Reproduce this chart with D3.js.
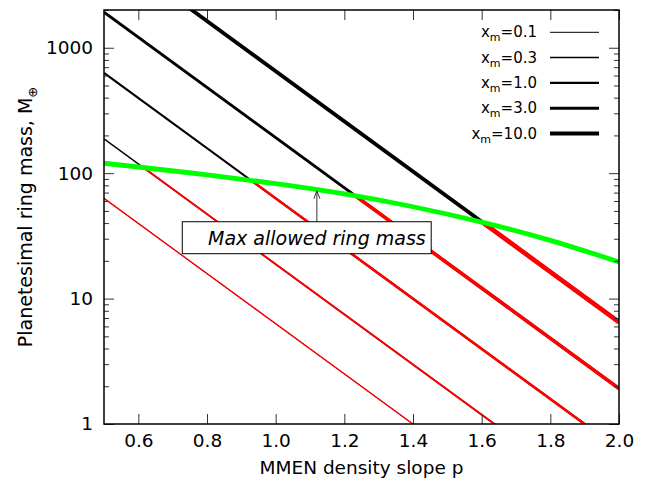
<!DOCTYPE html>
<html>
<head>
<meta charset="utf-8">
<script src="https://cdn.jsdelivr.net/npm/d3@7"></script>
<style>
  body { margin: 0; background: #fff; }
  svg { display: block; }
  text { font-family: "DejaVu Sans", "Liberation Sans", Arial, sans-serif; fill: #000; }
</style>
</head>
<body>
<svg class="ring-chart"></svg>
<script>
// ring mass lines, straight on the log axis, read at p = 0.5 and p = 2.0
var slopeP = [0.5, 2.0];
var xmLabels = ["0.1", "0.3", "1.0", "3.0", "10.0"];
var ringMass = [
    [63, 0.063],
    [188, 0.188],
    [630, 0.63],
    [1920, 1.92],
    [6500, 6.5]
];

// max allowed ring mass (green curve)
var maxP = [0.5, 0.6, 0.8, 1.0, 1.2, 1.4, 1.6, 1.8, 2.0];
var maxMass = [120, 112, 97.0, 82.4, 68.3, 54.0, 40.7, 29.1, 19.6];

// ticks
var xTicks = [0.6, 0.8, 1.0, 1.2, 1.4, 1.6, 1.8, 2.0];
var yMajor = [1, 10, 100, 1000];
var yMinor = [2, 3, 4, 5, 6, 7, 8, 9, 20, 30, 40, 50, 60, 70, 80, 90,
              200, 300, 400, 500, 600, 700, 800, 900, 2000];

// annotation box and arrow (data coords)
var boxP = [0.728, 1.453], boxMass = [22.8, 41];
var arrowP = 1.12, arrowMass = [41, 72.5];
var noteText = "Max allowed ring mass";

var svgWidth = 651, svgHeight = 500;
var margin = { top: 10, right: 32, bottom: 76, left: 104 },
    width = svgWidth - margin.left - margin.right,
    height = svgHeight - margin.top - margin.bottom;

var blackWidth = [1, 1.5, 2.1, 2.9, 3.8];
var redWidth = [1.3, 1.9, 2.6, 3.6, 4.6];

var svg = d3.select('svg.ring-chart')
    .attr("width", svgWidth)
    .attr("height", svgHeight);

var xScale = d3.scaleLinear().domain([0.5, 2.0]).range([0, width]),
    yScale = d3.scaleLog().domain([1, 2000]).range([height, 0]);

var g = svg.append("g")
    .attr("transform", "translate(" + margin.left + "," + margin.top + ")");

var defs = svg.append("defs");
defs.append("clipPath").attr("id", "plot-clip")
    .append("rect").attr("width", width).attr("height", height);

var maxData = maxP.map(function (p, i) { return [p, maxMass[i]]; });

// region under the green curve -> red part of the lines
var under = d3.area()
    .x(function (d) { return xScale(d[0]); })
    .y0(height + 20)
    .y1(function (d) { return yScale(d[1]); })
    .curve(d3.curveNatural);
defs.append("clipPath").attr("id", "under-clip")
    .append("path").datum(maxData).attr("d", under);

var line = d3.line()
    .x(function (d) { return xScale(d[0]); })
    .y(function (d) { return yScale(d[1]); });

var series = ringMass.map(function (m) {
    return slopeP.map(function (p, i) { return [p, m[i]]; });
});

var plot = g.append("g").attr("clip-path", "url(#plot-clip)");

plot.selectAll(".black")
    .data(series)
    .enter()
    .append("path")
    .attr("class", "black")
    .attr("d", line)
    .style("fill", "none")
    .style("stroke", "#000")
    .style("stroke-width", function (d, i) { return blackWidth[i]; });

plot.append("g").attr("clip-path", "url(#under-clip)")
    .selectAll(".red")
    .data(series)
    .enter()
    .append("path")
    .attr("class", "red")
    .attr("d", line)
    .style("fill", "none")
    .style("stroke", "#ff0000")
    .style("stroke-width", function (d, i) { return redWidth[i]; });

plot.append("path")
    .datum(maxData)
    .attr("d", line.curve(d3.curveNatural))
    .style("fill", "none")
    .style("stroke", "#00ff00")
    .style("stroke-width", 4.8);

// axes, ticks pointing inwards
function styleAxis(sel) {
    sel.select(".domain").remove();
    sel.selectAll(".tick line").attr("stroke", "#333").attr("stroke-width", 1);
    sel.selectAll("text").style("font-size", "18.5px").style("font-family", null);
}

g.append("g")
    .attr("transform", "translate(0," + height + ")")
    .call(d3.axisBottom(xScale).tickValues(xTicks).tickSizeInner(-10).tickSizeOuter(0)
        .tickPadding(10).tickFormat(d3.format(".1f")))
    .call(styleAxis);

g.append("g")
    .call(d3.axisTop(xScale).tickValues(xTicks).tickSizeInner(-10).tickSizeOuter(0)
        .tickFormat(""))
    .call(styleAxis);

g.append("g")
    .call(d3.axisLeft(yScale).tickValues(yMajor).tickSizeInner(-10).tickSizeOuter(0)
        .tickPadding(11).tickFormat(d3.format("d")))
    .call(styleAxis);

g.append("g")
    .call(d3.axisLeft(yScale).tickValues(yMinor).tickSizeInner(-5).tickSizeOuter(0)
        .tickFormat(""))
    .call(styleAxis);

g.append("g")
    .attr("transform", "translate(" + width + ",0)")
    .call(d3.axisRight(yScale).tickValues(yMajor).tickSizeInner(-10).tickSizeOuter(0)
        .tickFormat(""))
    .call(styleAxis);

g.append("g")
    .attr("transform", "translate(" + width + ",0)")
    .call(d3.axisRight(yScale).tickValues(yMinor).tickSizeInner(-5).tickSizeOuter(0)
        .tickFormat(""))
    .call(styleAxis);

g.append("rect")
    .attr("width", width)
    .attr("height", height)
    .style("fill", "none")
    .style("stroke", "#000")
    .style("stroke-width", 1.5);

// annotation
g.append("line")
    .attr("x1", xScale(arrowP)).attr("x2", xScale(arrowP))
    .attr("y1", yScale(arrowMass[0])).attr("y2", yScale(arrowMass[1]) + 1)
    .style("stroke", "#333").style("stroke-width", 1);
g.append("path")
    .attr("d", "M" + (xScale(arrowP) - 3) + "," + (yScale(arrowMass[1]) + 8) +
        "L" + xScale(arrowP) + "," + yScale(arrowMass[1]) +
        "L" + (xScale(arrowP) + 3) + "," + (yScale(arrowMass[1]) + 8))
    .style("fill", "none").style("stroke", "#333").style("stroke-width", 1);

g.append("rect")
    .attr("x", xScale(boxP[0]))
    .attr("y", yScale(boxMass[1]))
    .attr("width", xScale(boxP[1]) - xScale(boxP[0]))
    .attr("height", yScale(boxMass[0]) - yScale(boxMass[1]))
    .style("fill", "#fff")
    .style("stroke", "#000")
    .style("stroke-width", 1);

g.append("text")
    .attr("x", xScale(arrowP))
    .attr("y", (yScale(boxMass[0]) + yScale(boxMass[1])) / 2 + 7)
    .attr("text-anchor", "middle")
    .style("font-size", "19px")
    .style("font-style", "italic")
    .text(noteText);

// legend
var legend = g.selectAll(".legend")
    .data(xmLabels)
    .enter()
    .append("g")
    .attr("class", "legend")
    .attr("transform", function (d, i) { return "translate(0," + (22.3 + 25.3 * i) + ")"; });

legend.append("line")
    .attr("x1", 446).attr("x2", 495)
    .style("stroke", "#000")
    .style("stroke-width", function (d, i) { return blackWidth[i]; });

var lt = legend.append("text")
    .attr("x", 433)
    .attr("y", 5)
    .attr("text-anchor", "end")
    .style("font-size", "15px");
lt.append("tspan").text("x");
lt.append("tspan").attr("dy", 4).style("font-size", "11px").text("m");
lt.append("tspan").attr("dy", -4).text(function (d) { return "=" + d; });

// axis titles
svg.append("text")
    .attr("x", margin.left + width / 2)
    .attr("y", 474)
    .attr("text-anchor", "middle")
    .style("font-size", "18.5px")
    .text("MMEN density slope p");

var yt = svg.append("text")
    .attr("transform", "translate(32,217)rotate(-90)")
    .attr("text-anchor", "middle")
    .style("font-size", "19px");
yt.append("tspan").text("Planetesimal ring mass, M");
yt.append("tspan").attr("dy", 5).style("font-size", "13px").text("\u2295");
</script>
</body>
</html>
